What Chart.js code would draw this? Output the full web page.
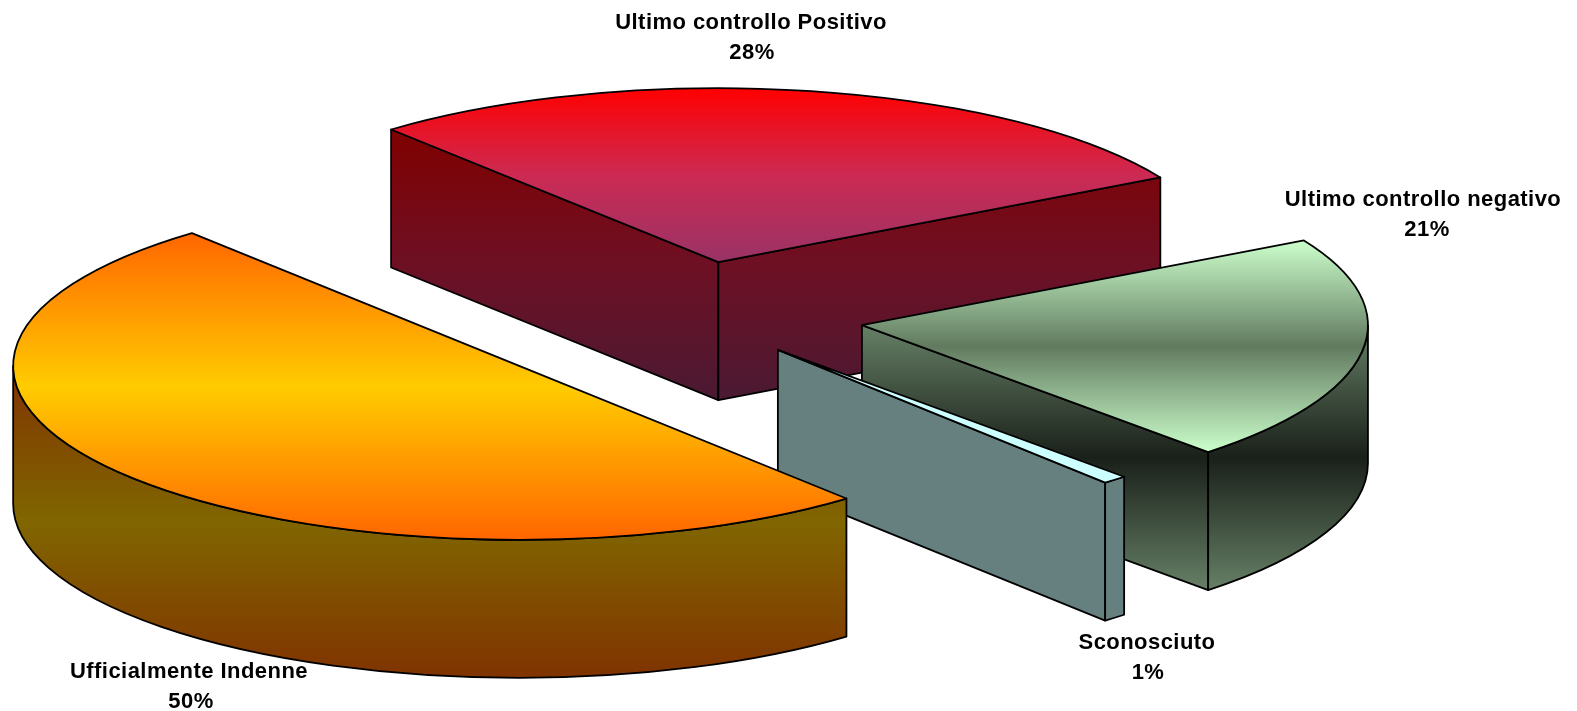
<!DOCTYPE html>
<html>
<head>
<meta charset="utf-8">
<style>html,body{margin:0;padding:0;background:#fff;overflow:hidden}canvas{display:block}</style>
<script src="https://cdn.jsdelivr.net/npm/chart.js@4"></script>
</head>
<body>
<canvas id="c" width="1577" height="711"></canvas>
<script>
const categories = ['Ultimo controllo Positivo', 'Ultimo controllo negativo', 'Sconosciuto', 'Ufficialmente Indenne'];
const shares = [28.1, 21.1, 0.8, 50.0];

// styles (not data)
const explode = [159, 174, 132, 224];
const topColors = [
  ['#ff0000', '#cc2a53', '#993366'],
  ['#ccffcc', '#617a5f', '#ccffcc'],
  ['#ccffff', '#ccffff', '#ccffff'],
  ['#ff6600', '#ffcc00', '#ff6600']
];
const wallColors = [
  ['#800000', '#6e1024', '#4a1a33'],
  ['#668066', '#1a201a', '#668066'],
  ['#668080', '#668080', '#668080'],
  ['#803300', '#806600', '#803300']
];
// [name x, name baseline, percentage x]
const labelAnchors = [[751, 29, 752], [1423, 206, 1427], [1147, 649, 1148], [189, 678, 191]];
const R = 506, SQUASH = 174 / 506, DEPTH = 138, ROTATION = -40.3;
const LINE_GAP = 30, TEXT_CLIP_RIGHT = 1560;

function angleRange(i) {
  const total = shares.reduce((a, b) => a + b, 0);
  const before = shares.slice(0, i).reduce((a, b) => a + b, 0);
  const base = (ROTATION - 90) * Math.PI / 180;
  return [base + before / total * 2 * Math.PI, base + (before + shares[i]) / total * 2 * Math.PI];
}
function sinExtent(s, e) {
  const vals = [0, Math.sin(s), Math.sin(e)];
  for (let k = -4; k <= 8; k++) {
    const a = Math.PI / 2 + k * Math.PI;
    if (a > s && a < e) vals.push(Math.sin(a));
  }
  return [Math.min(...vals), Math.max(...vals)];
}
function threeStop(ctx, y0, y1, cols) {
  const g = ctx.createLinearGradient(0, y0, 0, y1);
  g.addColorStop(0, cols[0]); g.addColorStop(.5, cols[1]); g.addColorStop(1, cols[2]);
  return g;
}
function topFill(c) {
  const chart = c.chart, i = c.dataIndex;
  if (!chart.chartArea) return topColors[i][0];
  const [s, e] = angleRange(i);
  const [lo, hi] = sinExtent(s, e);
  const cy = (chart.chartArea.top + chart.chartArea.bottom) / 2;
  return threeStop(chart.ctx, cy + R * lo, cy + R * hi, topColors[i]);
}

const pie3d = {
  id: 'pie3d',
  beforeDatasetsDraw(chart) {
    const ctx = chart.ctx;
    chart.getDatasetMeta(0).data.forEach((el, i) => {
      const s = el.startAngle, e = el.endAngle, r = el.outerRadius, mid = (s + e) / 2;
      const ox = el.x + Math.cos(mid) * explode[i];
      const oy = el.y + Math.sin(mid) * explode[i] * SQUASH;
      const ry = r * SQUASH;
      const px = t => ox + r * Math.cos(t), py = t => oy + ry * Math.sin(t);
      const faces = [];
      if (Math.cos(s) < 0) faces.push([[ox, oy], [px(s), py(s)]]);
      if (Math.cos(e) > 0) faces.push([[ox, oy], [px(e), py(e)]]);
      // visible part of the outer wall: where the rim faces the viewer
      let arcs = [];
      for (let k = -2; k <= 2; k++) {
        const a0 = Math.max(s, k * 2 * Math.PI), a1 = Math.min(e, k * 2 * Math.PI + Math.PI);
        if (a1 > a0) arcs.push([a0, a1]);
      }
      let minY = Infinity;
      faces.forEach(f => f.forEach(p => { minY = Math.min(minY, p[1]); }));
      arcs.forEach(a => { minY = Math.min(minY, py(a[0]), py(a[1])); });
      const maxFaceBottom = () => {
        let m = -Infinity;
        faces.forEach(f => f.forEach(p => { m = Math.max(m, p[1]); }));
        arcs.forEach(a => {
          m = Math.max(m, py(a[0]), py(a[1]));
          if (a[0] < Math.PI / 2 && a[1] > Math.PI / 2) m = Math.max(m, oy + ry);
        });
        return m + DEPTH;
      };
      ctx.save();
      ctx.lineWidth = 1.8;
      ctx.lineJoin = 'round';
      ctx.strokeStyle = '#000';
      ctx.fillStyle = threeStop(ctx, minY, maxFaceBottom(), wallColors[i]);
      faces.forEach(f => {
        ctx.beginPath();
        ctx.moveTo(f[0][0], f[0][1]);
        ctx.lineTo(f[1][0], f[1][1]);
        ctx.lineTo(f[1][0], f[1][1] + DEPTH);
        ctx.lineTo(f[0][0], f[0][1] + DEPTH);
        ctx.closePath();
        ctx.fill(); ctx.stroke();
      });
      arcs.forEach(a => {
        ctx.beginPath();
        ctx.ellipse(ox, oy, r, ry, 0, a[0], a[1]);
        ctx.lineTo(px(a[1]), py(a[1]) + DEPTH);
        ctx.ellipse(ox, oy + DEPTH, r, ry, 0, a[1], a[0], true);
        ctx.closePath();
        ctx.fill(); ctx.stroke();
      });
      ctx.restore();

      // top face: the library's own arc, flattened and pulled out
      ctx.save();
      ctx.translate(ox, oy);
      ctx.scale(1, SQUASH);
      ctx.translate(-el.x, -el.y);
      el.draw(ctx, chart.chartArea);
      ctx.restore();

      ctx.save();
      ctx.lineWidth = 1.8;
      ctx.lineJoin = 'round';
      ctx.strokeStyle = '#000';
      ctx.beginPath();
      ctx.moveTo(ox, oy);
      ctx.lineTo(px(s), py(s));
      ctx.ellipse(ox, oy, r, ry, 0, s, e);
      ctx.closePath();
      ctx.stroke();
      ctx.restore();
    });
    return false;
  },
  afterDraw(chart) {
    const ctx = chart.ctx;
    ctx.save();
    ctx.beginPath();
    ctx.rect(0, 0, TEXT_CLIP_RIGHT, chart.height);
    ctx.clip();
    ctx.font = 'bold 22px "Liberation Sans", Arial, sans-serif';
    ctx.letterSpacing = '0.45px';
    ctx.fillStyle = '#000';
    ctx.textAlign = 'center';
    ctx.textBaseline = 'alphabetic';
    categories.forEach((name, i) => {
      const [x, y, pctX] = labelAnchors[i];
      ctx.fillText(name, x, y);
      ctx.fillText(Math.round(shares[i]) + '%', pctX, y + LINE_GAP);
    });
    ctx.restore();
  }
};

new Chart(document.getElementById('c'), {
  type: 'pie',
  data: {
    labels: categories,
    datasets: [{ data: shares, backgroundColor: topFill, borderWidth: 0 }]
  },
  options: {
    responsive: false,
    animation: false,
    events: [],
    radius: R,
    rotation: ROTATION,
    layout: { padding: { left: 0, top: 0, right: 197, bottom: 79 } },
    plugins: { legend: { display: false }, tooltip: { enabled: false } }
  },
  plugins: [pie3d]
});
</script>
</body>
</html>
